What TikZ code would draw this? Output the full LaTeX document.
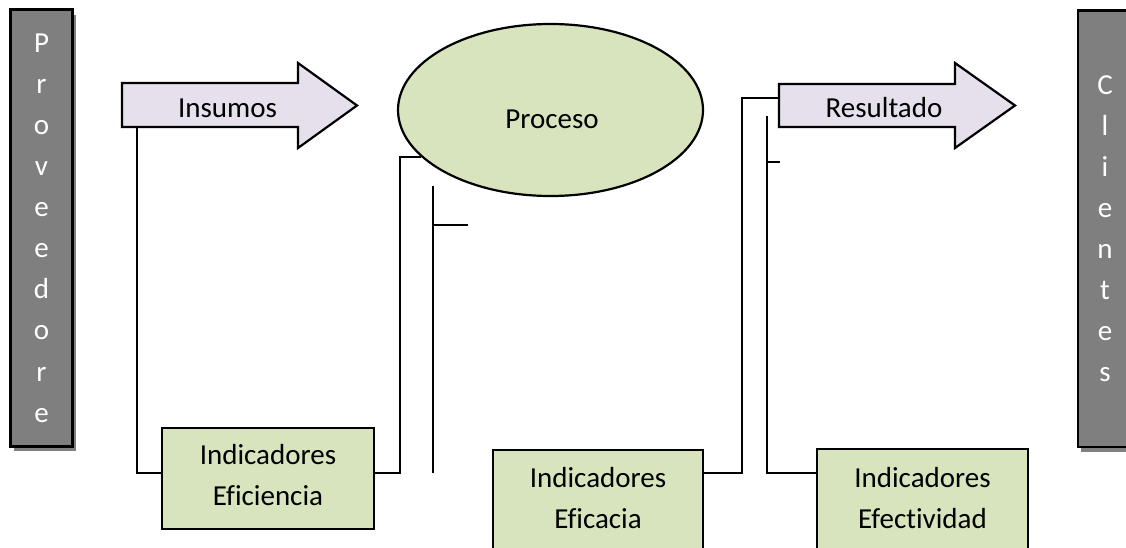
\documentclass[tikz,border=0pt]{standalone}
\usepackage{fontspec}
\setmainfont[Ligatures=NoCommon]{Carlito}
\usetikzlibrary{shapes.geometric,shadows}
\definecolor{sidegray}{HTML}{7F7F7F}
\definecolor{lav}{HTML}{E5E0EC}
\definecolor{olivelt}{HTML}{D7E4BD}
\tikzset{
  txt/.style={font=\fontsize{29}{41}\selectfont, inner sep=0pt},
  sidebox/.style={draw=black, line width=2.6pt, fill=sidegray, inner sep=0pt,
    text=white, align=center, font=\fontsize{29}{41.1}\selectfont,
    drop shadow={shadow xshift=3pt, shadow yshift=-5pt, fill=black!50, opacity=1}},
  indbox/.style={draw=black, line width=2.2pt, fill=olivelt, inner sep=0pt},
  procshape/.style={ellipse, draw=black, line width=2.2pt, fill=olivelt, inner sep=0pt},
  conn/.style={line width=1.4pt, black},
  bigarrow/.style={draw=black, line width=2.2pt, fill=lav, line join=miter},
}
\begin{document}
\begin{tikzpicture}[x=1pt,y=-1pt]
\useasboundingbox (0,0) rectangle (1126,548);
\clip (0,0) rectangle (1126,548);

% side boxes
\node[sidebox, minimum width=62pt, minimum height=436.5pt] (prov) at (41.5,228)
  {P\\r\\o\\v\\e\\e\\d\\o\\r\\e};
\node[sidebox, minimum width=54pt, minimum height=436.5pt] (cli) at (1105,228.75)
  {C\\l\\i\\e\\n\\t\\e\\s};

% arrows
\draw[bigarrow] (122,83) -- (298,83) -- (298,63) -- (357,105.5) -- (298,148) -- (298,127) -- (122,127) -- cycle;
\coordinate (insL) at (137,127);
\node[txt, anchor=base] (inst) at (227.5,118) {Insumos};

\draw[bigarrow] (779,84) -- (955,84) -- (955,63) -- (1015,105.5) -- (955,148) -- (955,127) -- (779,127) -- cycle;
\coordinate (resL) at (779,98);
\node[txt, anchor=base] (rest) at (884,118) {Resultado};

% process
\node[procshape, minimum width=305pt, minimum height=172pt] (proc) at (550.5,110) {};
\node[txt, anchor=base] (proct) at (552,129) {Proceso};

% indicator boxes
\node[indbox, minimum width=212pt, minimum height=101pt] (efi) at (268,478.5) {};
\node[txt, align=center] (efit) at (268,475.5) {Indicadores\\Eficiencia};

\node[indbox, minimum width=210pt, minimum height=130pt] (efa) at (598,515) {};
\node[txt, align=center] (efat) at (598,498.5) {Indicadores\\Eficacia};

\node[indbox, minimum width=211pt, minimum height=130pt] (efe) at (922.5,514) {};
\node[txt, align=center] (efet) at (922.5,498.5) {Indicadores\\Efectividad};

% connectors
\draw[conn] (insL) |- ([yshift=5.5pt]efi.west);
\draw[conn] ([yshift=5.5pt]efi.east) -- ++(25,0) |- (proc.200);
\draw[conn] ([yshift=42pt]efa.east) -- ++(38,0) |- (resL);
\coordinate (v2top) at (767,116);
\draw[conn] (v2top) |- ([yshift=41pt]efe.west);
\draw[conn] (767,162) -- (780,162);
\draw[conn] (433,186) -- (433,473);
\draw[conn] (433,225) -- (468,225);
\end{tikzpicture}
\end{document}
